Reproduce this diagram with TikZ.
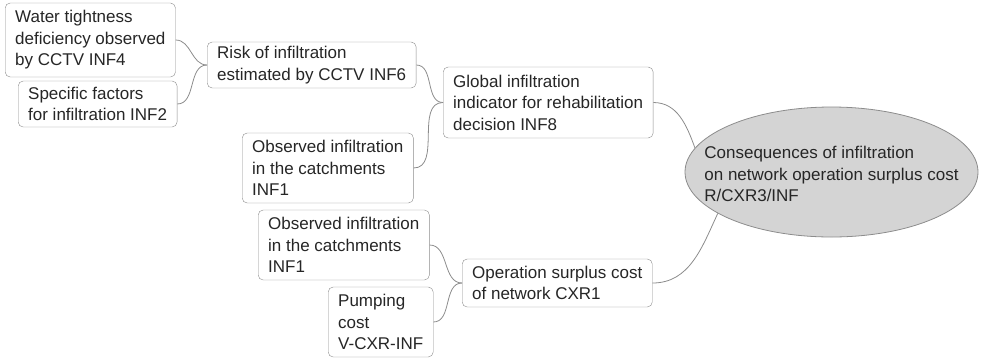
\documentclass[tikz,border=0pt]{standalone}
\usepackage{fontspec}
\setmainfont{Liberation Sans}
\usetikzlibrary{shapes.geometric}
\definecolor{boxline}{HTML}{8C8C8C}
\definecolor{ellfill}{HTML}{D4D4D4}
\definecolor{txt}{HTML}{262626}
\begin{document}
\begin{tikzpicture}[x=1pt,y=-1pt,
	every node/.style={font=\fontsize{17}{21.5}\selectfont, text=txt},
	factor/.style={draw=boxline, fill=white, rounded corners=5pt, align=left, anchor=west, inner xsep=10pt, inner ysep=0pt},
	link/.style={draw=boxline, line width=0.8pt}]
		\useasboundingbox (0,0) rectangle (985,360);

		\node[factor, minimum height=74pt] (inf4) at (5,40) {Water tightness\\deficiency observed\\by CCTV INF4};
		\node[factor, minimum height=46pt] (inf2) at (18,104) {Specific factors\\for infiltration INF2};
		\node[factor, minimum height=46pt] (inf6) at (207,65) {Risk of infiltration\\estimated by CCTV INF6};
		\node[factor, minimum height=71pt] (inf8) at (443,102.5) {Global infiltration\\indicator for rehabilitation\\decision INF8};
		\node[factor, minimum height=70pt] (inf1a) at (242,168) {Observed infiltration\\in the catchments\\INF1};
		\node[factor, minimum height=70pt] (inf1b) at (258,245) {Observed infiltration\\in the catchments\\INF1};
		\node[factor, minimum height=70pt] (vcxr) at (328,322) {Pumping\\cost\\V-CXR-INF};
		\node[factor, minimum height=48pt] (cxr1) at (462,283) {Operation surplus cost\\of network CXR1};

		\node[ellipse, draw=boxline, fill=ellfill, line width=0.8pt, minimum width=293pt, minimum height=130pt, inner sep=0pt] (cxr3) at (831.5,172) {};
		\node[align=left, inner sep=0pt] (cxr3txt) at ([yshift=-2pt]cxr3.center) {Consequences of infiltration\\on network operation surplus cost\\R/CXR3/INF};

		\draw[link] (inf4.east) to[out=0,in=180] (inf6.west);
		\draw[link] (inf2.east) to[out=0,in=180] (inf6.west);
		\draw[link] (inf6.east) to[out=0,in=180] (inf8.west);
		\draw[link] (inf1a.east) to[out=0,in=180] (inf8.west);
		\draw[link] (inf1b.east) to[out=0,in=180] (cxr1.west);
		\draw[link] (vcxr.east) to[out=0,in=180] (cxr1.west);
		\draw[link] (inf8.east) to[out=0,in=110] (cxr3.170);
		\draw[link] (cxr1.east) to[out=0,in=245] (cxr3.200);
\end{tikzpicture}
\end{document}
